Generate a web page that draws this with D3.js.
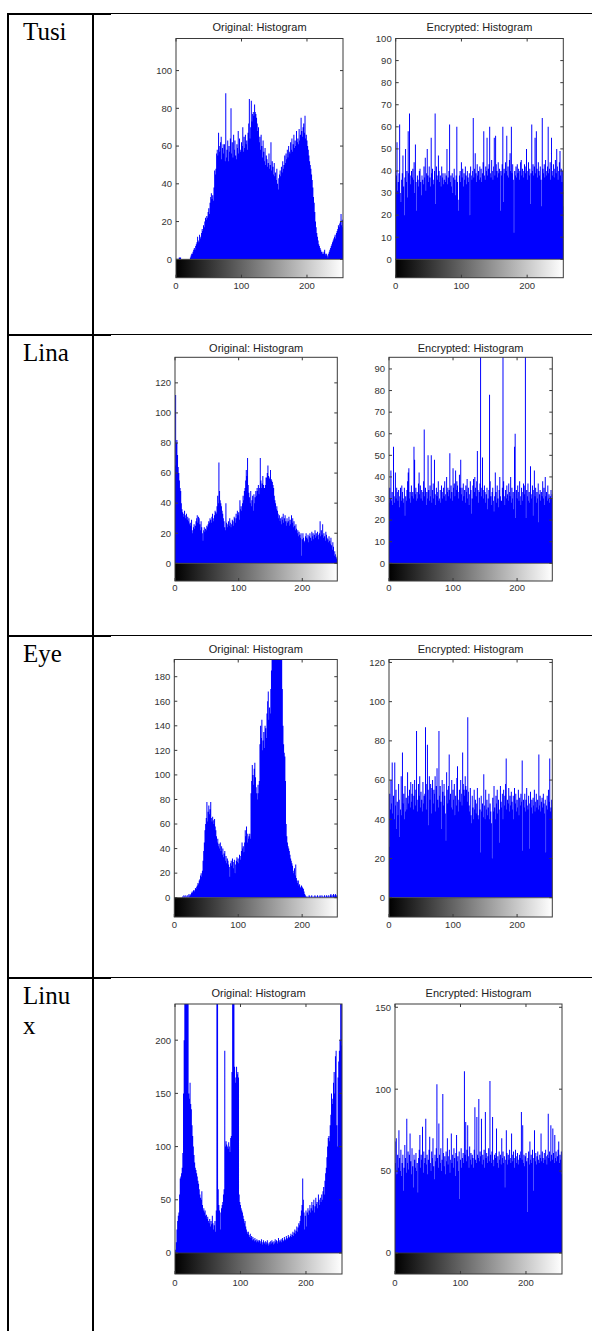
<!DOCTYPE html>
<html><head><meta charset="utf-8">
<script src="https://cdn.jsdelivr.net/npm/d3@7/dist/d3.min.js"></script>
<style>html,body{margin:0;padding:0;background:#fff;}svg{display:block;}</style>
</head><body>
<script>
// ---------- DATA ----------
const rowLabels = [["Tusi"], ["Lina"], ["Eye"], ["Linu", "x"]];
const panelTitles = ["Original: Histogram", "Encrypted: Histogram"];
const xTicks = [0, 100, 200];
const xMax = 255;
// y axis limits and tick steps: [original, encrypted] for each row
const yMaxes = [[117, 100], [137, 95.4], [194, 121.5], [234, 152]];
const yTickSteps = [[20, 10], [20, 10], [20, 20], [50, 50]];
const yTickTops = [[100, 100], [120, 90], [180, 120], [200, 150]];

const tusiOrig = [
0,0,0,0,0,1,1,1,0,0,0,0,0,0,0,0,
0,0,0,0,0,0,1,2,3,3,4,5,6,5,7,8,
9,12,10,9,13,11,12,14,16,15,18,17,20,22,21,23,
22,25,27,24,30,33,35,32,34,31,38,47,45,48,56,58,
55,67,60,57,62,65,53,59,61,56,61,52,88,54,58,63,
52,60,57,64,80,56,62,54,66,58,63,55,53,61,59,68,
56,64,58,57,62,60,70,57,65,59,66,61,63,58,67,72,
85,64,70,84,73,77,78,76,82,78,77,75,72,68,70,62,
65,58,66,60,54,63,57,52,59,50,55,53,49,51,56,48,
50,62,47,52,49,45,51,44,46,42,48,40,37,43,45,47,
44,49,46,52,48,50,55,51,56,53,58,54,60,57,56,62,
58,64,57,61,66,59,63,60,68,62,64,61,69,63,66,75,
68,65,70,72,67,76,64,66,63,60,58,55,52,50,48,45,
42,38,33,30,25,20,17,14,12,10,8,7,6,5,4,4,
3,3,4,5,3,2,3,2,1,3,4,5,6,7,8,9,
10,11,12,13,11,14,15,16,18,17,19,20,24,18,21,17];

const tusiEnc = [
40,38,53,31,35,39,61,30,26,36,39,47,33,20,37,50,
35,40,28,58,39,66,38,34,40,37,41,36,44,30,52,35,
22,38,36,33,40,41,35,29,38,36,34,42,37,46,31,39,
50,38,35,42,37,33,55,39,41,36,34,40,66,25,42,38,
36,47,40,35,38,33,42,37,39,34,36,39,35,38,50,34,
37,40,61,35,38,33,39,30,37,41,36,29,38,60,35,27,
22,38,40,35,44,37,41,33,39,36,42,38,34,40,37,35,
39,20,42,38,36,40,64,37,41,48,39,35,43,38,40,36,
42,37,41,35,39,44,58,38,36,42,40,55,38,41,43,60,
39,37,45,40,36,42,55,38,56,43,40,37,44,39,41,22,
40,38,43,60,26,41,39,44,40,56,38,42,37,45,48,40,
60,39,43,36,12,40,38,42,37,43,39,41,36,40,44,45,
38,41,37,40,43,39,42,50,36,40,44,38,41,25,39,61,
40,43,38,42,55,39,58,41,37,44,40,38,42,36,24,64,
41,39,43,37,45,40,38,42,60,39,41,44,36,55,40,38,
43,37,41,45,39,50,42,36,40,44,49,38,41,35,40,24];

const linaOrig = [
65,112,80,82,72,64,60,55,50,48,40,36,34,33,31,35,
32,30,33,29,31,28,30,26,27,25,29,22,20,24,26,23,
25,28,30,32,27,31,30,26,22,28,24,20,15,22,24,21,
23,22,25,24,26,28,27,30,29,27,31,33,30,28,32,35,
34,33,38,45,40,67,48,42,40,38,35,33,30,28,24,22,
40,27,24,26,28,25,30,27,24,26,29,28,25,31,30,27,
33,30,35,32,34,29,42,36,38,35,40,45,42,48,50,55,
62,58,70,52,47,44,40,48,38,42,45,35,46,40,44,48,
45,50,48,52,46,50,70,55,50,53,58,52,50,50,52,57,
57,60,65,58,56,57,62,56,55,54,52,50,45,42,40,36,
38,35,33,30,32,28,30,26,31,29,33,27,30,32,28,25,
30,27,28,31,25,29,26,32,27,30,24,28,25,22,26,23,
20,22,18,21,19,17,20,5,16,20,17,14,15,18,20,17,
16,19,14,18,20,17,15,21,18,20,16,19,22,17,20,18,
21,19,16,20,28,18,22,19,26,17,20,18,15,21,19,17,
16,14,18,15,13,17,12,9,14,11,5,8,6,4,3,5];

const linaEnc = [
28,35,30,43,29,33,27,54,31,28,42,30,35,33,29,34,
26,31,35,29,36,33,30,28,35,22,31,29,34,38,42,44,
30,33,28,36,31,33,30,54,48,32,35,29,33,30,37,42,
32,36,30,34,29,33,38,62,31,35,27,33,30,50,34,29,
36,31,50,28,34,37,30,48,32,27,35,31,33,38,29,30,
34,28,36,33,30,35,31,38,32,29,40,33,35,31,34,51,
30,36,33,29,44,35,37,31,43,34,38,36,33,30,41,35,
48,32,35,29,37,31,34,28,36,33,39,30,35,27,32,38,
34,23,30,36,39,33,40,35,31,38,52,34,28,33,37,120,
31,35,49,34,30,36,33,28,32,35,25,30,34,78,38,31,
27,33,35,29,24,31,42,33,28,36,30,26,34,40,31,29,
29,35,130,38,31,27,34,30,36,32,29,37,33,31,40,28,
35,30,33,25,54,60,21,34,30,36,33,29,38,31,27,35,
33,29,37,32,36,110,21,34,31,37,29,33,28,45,32,30,
36,22,34,43,31,35,28,33,30,37,19,32,34,29,33,31,
38,30,35,27,40,31,33,29,36,30,32,28,31,34,30,32];

const eyeOrig = [
0,0,0,0,0,0,0,0,0,0,0,0,0,1,0,2,
1,0,2,1,0,2,0,3,1,2,3,4,5,4,6,5,
6,8,7,9,10,12,11,14,15,18,20,17,22,30,38,45,
55,60,65,78,62,70,75,68,72,78,65,62,66,63,60,64,
58,55,50,45,48,42,44,40,45,38,42,35,40,33,36,38,
30,34,28,32,30,27,25,17,28,30,26,32,29,24,31,20,
27,30,33,29,32,28,35,34,31,38,45,40,42,37,45,55,
50,58,45,52,48,50,52,48,85,95,108,100,92,105,110,98,
90,85,80,92,85,95,125,140,130,145,120,128,135,122,140,138,
130,150,160,168,145,155,150,170,185,200,230,240,235,250,245,238,
245,230,240,225,215,210,200,205,198,170,140,125,118,115,95,60,
50,45,42,40,38,35,32,30,28,26,22,20,24,18,27,16,
14,12,14,10,11,9,8,10,9,8,7,5,3,2,1,1,
0,1,0,2,1,0,1,2,0,1,0,1,2,1,0,1,
2,1,0,1,2,1,0,2,1,0,1,2,1,0,2,1,
1,2,0,1,2,3,1,2,0,3,2,1,3,2,1,2];

const eyeEnc = [
26,53,45,60,48,69,43,52,40,69,47,55,35,49,42,58,
50,31,45,62,42,74,48,53,40,57,44,51,45,64,52,48,
55,46,59,49,53,58,45,52,60,47,55,85,50,44,58,52,
62,46,54,50,44,59,48,52,53,87,45,58,78,55,37,62,
50,58,43,56,60,48,55,53,62,44,57,66,50,46,85,52,
57,49,35,60,54,47,58,52,43,29,64,55,48,57,73,50,
53,46,60,45,55,50,58,42,52,47,61,67,50,44,55,49,
60,53,47,74,58,55,52,62,57,55,49,92,54,47,44,56,
42,38,52,46,40,55,45,50,43,48,56,42,40,51,45,23,
52,44,48,41,63,47,40,55,45,50,42,46,53,40,48,44,
38,20,51,44,57,46,40,52,48,55,43,50,45,28,57,49,
46,53,40,55,47,52,58,71,45,50,48,56,44,52,47,54,
49,45,52,40,56,48,53,44,50,46,55,42,51,47,53,49,
70,24,50,46,53,44,50,56,47,45,52,25,48,54,46,50,
43,51,47,55,44,49,53,46,50,45,73,47,52,44,49,51,
46,53,48,43,50,23,47,52,45,55,49,71,44,46,50,40];

const linuxOrig = [
0,3,10,22,30,35,38,55,70,72,75,80,94,150,200,250,
260,250,255,240,240,150,145,160,140,135,120,110,100,92,85,80,
78,75,72,68,65,60,55,52,50,58,45,40,42,38,40,35,
36,32,34,30,28,32,25,30,27,35,28,22,26,30,20,40,
240,250,60,45,40,22,38,42,45,48,55,60,190,100,105,102,
100,98,104,100,95,108,110,170,250,260,245,175,160,165,175,168,
170,165,55,48,45,42,40,38,35,32,28,30,25,22,20,18,
20,17,15,18,14,16,12,15,13,11,14,12,10,13,11,12,
10,12,9,11,13,10,8,12,10,9,11,8,10,12,9,7,
10,8,11,9,12,10,8,11,9,13,10,12,9,11,14,10,
12,11,13,10,14,12,11,15,13,12,16,14,13,17,15,14,
16,18,15,17,20,16,19,22,18,21,25,20,24,28,26,30,
35,40,45,70,50,38,22,35,40,25,38,42,36,40,45,38,
42,48,40,45,50,38,44,52,46,48,42,55,50,45,52,48,
55,50,58,62,55,68,75,80,90,100,108,110,105,120,130,150,
140,145,160,170,150,185,190,120,100,165,180,190,200,250,240,195];

const linuxEnc = [
68,55,70,48,60,52,75,58,50,63,47,55,60,38,52,66,
58,49,82,55,62,51,60,73,56,48,64,53,40,60,57,52,
61,50,55,37,58,63,72,52,60,57,77,49,62,55,58,82,
54,60,48,57,63,71,55,50,62,58,70,53,45,60,56,64,
103,58,52,79,60,55,64,50,57,97,61,53,59,48,62,56,
70,54,59,63,49,57,73,55,60,52,64,58,47,61,72,56,
59,50,62,33,57,64,52,58,61,55,111,60,80,56,63,78,
59,52,65,57,61,54,60,58,52,63,89,57,55,83,60,58,
94,56,62,59,82,54,60,57,63,52,86,58,61,55,59,64,
56,105,60,55,62,83,57,53,60,58,61,76,55,59,52,62,
57,60,54,70,58,62,55,59,40,57,75,61,54,60,57,63,
58,55,73,60,56,62,52,58,63,55,59,61,54,57,60,58,
62,86,57,78,55,60,53,59,61,56,25,58,62,54,68,57,
60,55,63,38,58,75,56,61,54,59,62,57,55,60,58,73,
56,62,58,55,61,57,63,59,54,60,85,58,62,56,78,60,
57,76,61,55,72,58,62,56,59,63,68,55,60,57,62,48];

const histData = [[tusiOrig, tusiEnc], [linaOrig, linaEnc], [eyeOrig, eyeEnc], [linuxOrig, linuxEnc]];

// ---------- LAYOUT ----------
const W = 592, H = 1331;
const layout = [
  {line: 14,  title: 26.7,  top: 38.5,  zero: 259.3,  cb: 277.7, xl: 286,  panels: [[176, 343], [395.7, 563.3]], labelY: [40]},
  {line: 335, title: 347.7, top: 357.3, zero: 563.3,  cb: 581,   xl: 588,  panels: [[175, 337.3], [389, 552.3]], labelY: [361]},
  {line: 636, title: 649.3, top: 659.5, zero: 897.7,  cb: 917,   xl: 925,  panels: [[174.3, 337.3], [389, 552.3]], labelY: [662]},
  {line: 978, title: 993,   top: 1004,  zero: 1253,   cb: 1274,  xl: 1283, panels: [[175, 342], [395, 562]], labelY: [1004, 1034]}
];
const colLeft = 8, colDiv = 93, thickEnd = 111;
const frameColor = "#3a3a3a", textColor = "#333", barColor = "#0000ff";
const sans = "'Liberation Sans', Arial, sans-serif";

const svg = d3.select("body").append("svg").attr("width", W).attr("height", H);
const defs = svg.append("defs");
const grad = defs.append("linearGradient").attr("id", "gray").attr("x1", "0%").attr("x2", "100%").attr("y1", "0%").attr("y2", "0%");
grad.append("stop").attr("offset", "0%").attr("stop-color", "#000");
grad.append("stop").attr("offset", "100%").attr("stop-color", "#fff");

// ---------- TABLE ----------
const table = svg.append("g");
table.append("line").attr("x1", colLeft).attr("x2", colLeft).attr("y1", layout[0].line - 1).attr("y2", H).attr("stroke", "#000").attr("stroke-width", 2);
table.append("line").attr("x1", colDiv).attr("x2", colDiv).attr("y1", layout[0].line - 1).attr("y2", H).attr("stroke", "#000").attr("stroke-width", 2);
layout.forEach((L, r) => {
  table.append("line").attr("x1", colLeft - 1).attr("x2", thickEnd).attr("y1", L.line).attr("y2", L.line).attr("stroke", "#000").attr("stroke-width", 2);
  table.append("line").attr("x1", thickEnd).attr("x2", W).attr("y1", L.line - 0.5).attr("y2", L.line - 0.5).attr("stroke", "#000").attr("stroke-width", 1);
  rowLabels[r].forEach((t, k) => {
    table.append("text").attr("x", 23).attr("y", L.labelY[k]).text(t)
      .attr("font-family", "'Liberation Serif', 'Times New Roman', serif").attr("font-size", 25).attr("fill", "#000");
  });
});

// ---------- PANELS ----------
layout.forEach((L, r) => {
  [0, 1].forEach(c => {
    const [x0, x1] = L.panels[c];
    const data = histData[r][c];
    const ymax = yMaxes[r][c];
    const x = d3.scaleLinear().domain([0, xMax]).range([x0, x1]);
    const y = d3.scaleLinear().domain([0, ymax]).range([L.zero, L.top]);
    const g = svg.append("g");
    const clipId = `clip${r}${c}`;
    defs.append("clipPath").attr("id", clipId).append("rect")
      .attr("x", x0).attr("y", L.top).attr("width", x1 - x0).attr("height", L.zero - L.top);

    // histogram stems as one path (each stem at least 1px wide)
    const p = d3.path();
    data.forEach((v, i) => {
      if (v <= 0) return;
      const cx = x(i);
      const half = Math.max(0.5, (x(1) - x(0)) / 2);
      const yt = y(Math.min(v, ymax * 1.01));
      p.rect(cx - half, yt, 2 * half, L.zero - yt);
    });
    g.append("path").attr("d", p.toString()).attr("fill", barColor).attr("clip-path", `url(#${clipId})`);

    // colorbar
    g.append("rect").attr("x", x0).attr("y", L.zero).attr("width", x1 - x0).attr("height", L.cb - L.zero).attr("fill", "url(#gray)");

    // frame
    g.append("rect").attr("x", x0).attr("y", L.top).attr("width", x1 - x0).attr("height", L.cb - L.top)
      .attr("fill", "none").attr("stroke", frameColor).attr("stroke-width", 1);
    g.append("line").attr("x1", x0).attr("x2", x1).attr("y1", L.zero).attr("y2", L.zero).attr("stroke", frameColor).attr("stroke-width", 0.8);

    // y ticks
    const yt = d3.range(0, yTickTops[r][c] + 0.001, yTickSteps[r][c]);
    yt.forEach(v => {
      const yy = y(v);
      g.append("line").attr("x1", x0).attr("x2", x0 + 3).attr("y1", yy).attr("y2", yy).attr("stroke", frameColor);
      g.append("line").attr("x1", x1 - 3).attr("x2", x1).attr("y1", yy).attr("y2", yy).attr("stroke", frameColor);
      g.append("text").attr("x", x0 - 4).attr("y", yy).attr("dy", "0.35em").attr("text-anchor", "end")
        .attr("font-family", sans).attr("font-size", 9.5).attr("fill", textColor).text(v);
    });
    // x ticks
    xTicks.forEach(v => {
      const xx = x(v);
      g.append("line").attr("x1", xx).attr("x2", xx).attr("y1", L.top).attr("y2", L.top + 3).attr("stroke", frameColor);
      g.append("line").attr("x1", xx).attr("x2", xx).attr("y1", L.cb - 3).attr("y2", L.cb).attr("stroke", frameColor);
      g.append("text").attr("x", xx).attr("y", L.xl).attr("dy", "0.35em").attr("text-anchor", "middle")
        .attr("font-family", sans).attr("font-size", 9.5).attr("fill", textColor).text(v);
    });
    // title
    g.append("text").attr("x", (x0 + x1) / 2).attr("y", L.title).attr("dy", "0.35em").attr("text-anchor", "middle")
      .attr("font-family", sans).attr("font-size", 11).attr("fill", "#222").text(panelTitles[c]);
  });
});
</script>
</body></html>
